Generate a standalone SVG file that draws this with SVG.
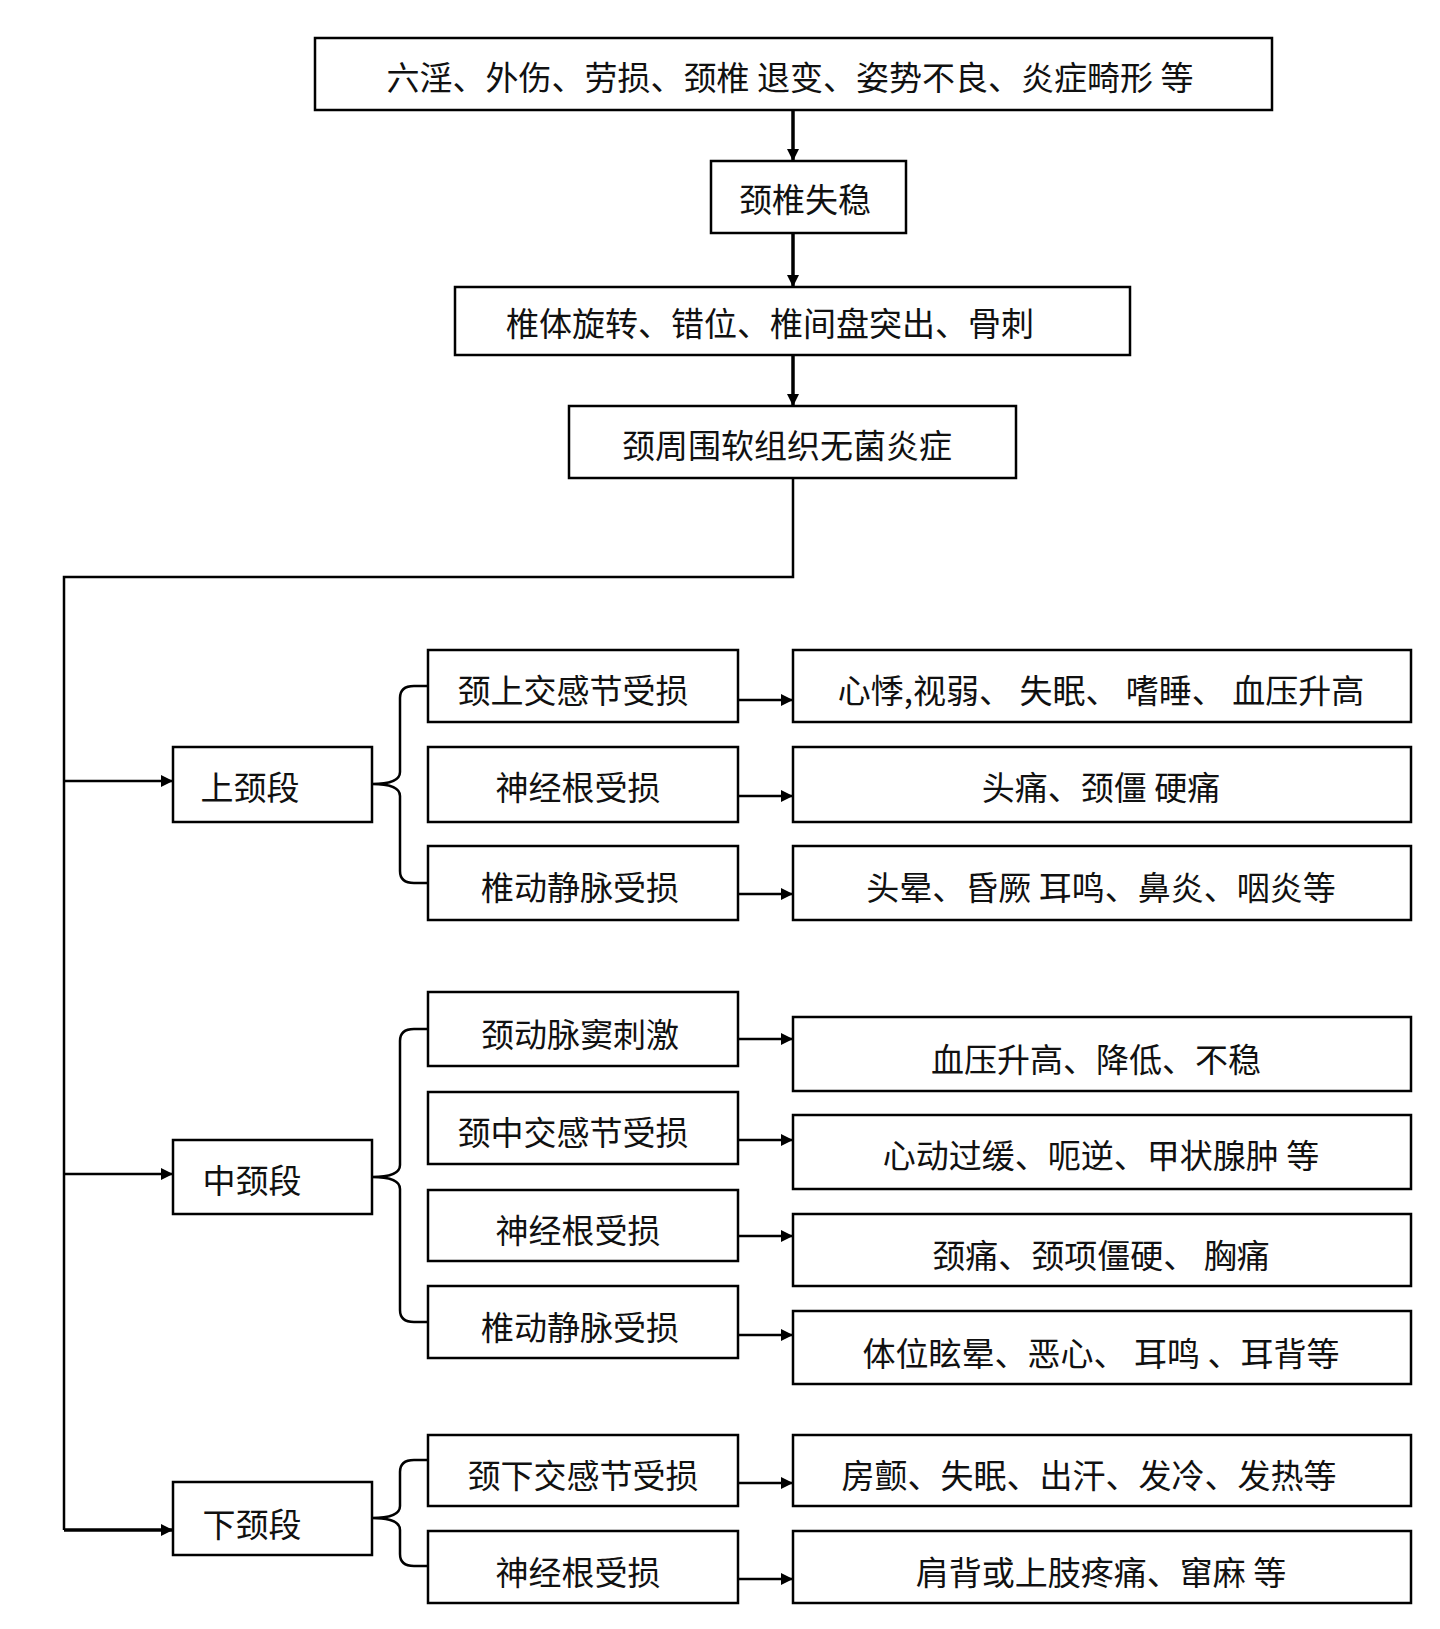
<svg xmlns="http://www.w3.org/2000/svg" width="1440" height="1629" viewBox="0 0 1440 1629">
<style>
rect{fill:#fff;stroke:#000;stroke-width:2.5}
rect.bg{stroke:none}
text{font-family:"Noto Sans CJK SC",sans-serif;font-size:33px;fill:#111;text-anchor:middle;dominant-baseline:central}
.c{fill:none;stroke:#000;stroke-width:2.5}
.t{stroke-width:3.5}
</style>
<defs><marker id="a" markerWidth="12" markerHeight="12" refX="11" refY="6" orient="auto" markerUnits="userSpaceOnUse"><path d="M0,0L12,6L0,12z" fill="#000"/></marker></defs>
<rect class="bg" width="1440" height="1629"/>
<g id="connectors">
<path class="c t" d="M793,110V160" marker-end="url(#a)"/>
<path class="c t" d="M793,233V286" marker-end="url(#a)"/>
<path class="c t" d="M793,355V405" marker-end="url(#a)"/>
<path class="c" d="M793,478V577H64V1530"/>
<path class="c" d="M64,781H172" marker-end="url(#a)"/>
<path class="c" d="M64,1174H172" marker-end="url(#a)"/>
<path class="c t" d="M64,1530H172" marker-end="url(#a)"/>
<path class="c" d="M428,686H414Q400,686 400,698V772Q400,784 372,784Q400,784 400,796V871Q400,883 414,883H428"/>
<path class="c" d="M428,1029H414Q400,1029 400,1041V1165Q400,1177 372,1177Q400,1177 400,1189V1310Q400,1322 414,1322H428"/>
<path class="c" d="M428,1460H414Q400,1460 400,1472V1506Q400,1518 372,1518Q400,1518 400,1530V1554Q400,1566 414,1566H428"/>
<path class="c" d="M738,700H792" marker-end="url(#a)"/>
<path class="c" d="M738,796H792" marker-end="url(#a)"/>
<path class="c" d="M738,894H792" marker-end="url(#a)"/>
<path class="c" d="M738,1039H792" marker-end="url(#a)"/>
<path class="c" d="M738,1140H792" marker-end="url(#a)"/>
<path class="c" d="M738,1236H792" marker-end="url(#a)"/>
<path class="c" d="M738,1335H792" marker-end="url(#a)"/>
<path class="c" d="M738,1483H792" marker-end="url(#a)"/>
<path class="c" d="M738,1579H792" marker-end="url(#a)"/>
</g>
<g id="n1"><rect x="315" y="38" width="957" height="72"/><text x="790" y="76">六淫、外伤、劳损、颈椎 退变、姿势不良、炎症畸形 等</text></g>
<g id="n2"><rect x="711" y="161" width="195" height="72"/><text x="805" y="198">颈椎失稳</text></g>
<g id="n3"><rect x="455" y="287" width="675" height="68"/><text x="770" y="322">椎体旋转、错位、椎间盘突出、骨刺</text></g>
<g id="n4"><rect x="569" y="406" width="447" height="72"/><text x="787" y="444">颈周围软组织无菌炎症</text></g>
<g id="s1"><rect x="173" y="747" width="199" height="75"/><text x="250" y="786">上颈段</text></g>
<g id="s2"><rect x="173" y="1140" width="199" height="74"/><text x="252" y="1179">中颈段</text></g>
<g id="s3"><rect x="173" y="1482" width="199" height="73"/><text x="252" y="1523">下颈段</text></g>
<g id="m1"><rect x="428" y="650" width="310" height="72"/><text x="573" y="689">颈上交感节受损</text></g>
<g id="m2"><rect x="428" y="747" width="310" height="75"/><text x="578" y="786">神经根受损</text></g>
<g id="m3"><rect x="428" y="846" width="310" height="74"/><text x="580" y="886">椎动静脉受损</text></g>
<g id="m4"><rect x="428" y="992" width="310" height="74"/><text x="580" y="1033">颈动脉窦刺激</text></g>
<g id="m5"><rect x="428" y="1092" width="310" height="72"/><text x="573" y="1131">颈中交感节受损</text></g>
<g id="m6"><rect x="428" y="1190" width="310" height="71"/><text x="578" y="1229">神经根受损</text></g>
<g id="m7"><rect x="428" y="1286" width="310" height="72"/><text x="580" y="1326">椎动静脉受损</text></g>
<g id="m8"><rect x="428" y="1435" width="310" height="71"/><text x="583" y="1474">颈下交感节受损</text></g>
<g id="m9"><rect x="428" y="1531" width="310" height="72"/><text x="578" y="1571">神经根受损</text></g>
<g id="r1"><rect x="793" y="650" width="618" height="72"/><text x="1101" y="689">心悸,视弱、 失眠、 嗜睡、 血压升高</text></g>
<g id="r2"><rect x="793" y="747" width="618" height="75"/><text x="1101" y="786">头痛、颈僵 硬痛</text></g>
<g id="r3"><rect x="793" y="846" width="618" height="74"/><text x="1101" y="886">头晕、昏厥  耳鸣、鼻炎、咽炎等</text></g>
<g id="r4"><rect x="793" y="1017" width="618" height="74"/><text x="1096" y="1058">血压升高、降低、不稳</text></g>
<g id="r5"><rect x="793" y="1115" width="618" height="74"/><text x="1101" y="1154">心动过缓、呃逆、甲状腺肿  等</text></g>
<g id="r6"><rect x="793" y="1214" width="618" height="72"/><text x="1101" y="1254">颈痛、颈项僵硬、 胸痛</text></g>
<g id="r7"><rect x="793" y="1311" width="618" height="73"/><text x="1101" y="1352">体位眩晕、恶心、 耳鸣 、耳背等</text></g>
<g id="r8"><rect x="793" y="1435" width="618" height="71"/><text x="1089" y="1474">房颤、失眠、出汗、发冷、发热等</text></g>
<g id="r9"><rect x="793" y="1531" width="618" height="72"/><text x="1101" y="1571">肩背或上肢疼痛、窜麻 等</text></g>
</svg>
